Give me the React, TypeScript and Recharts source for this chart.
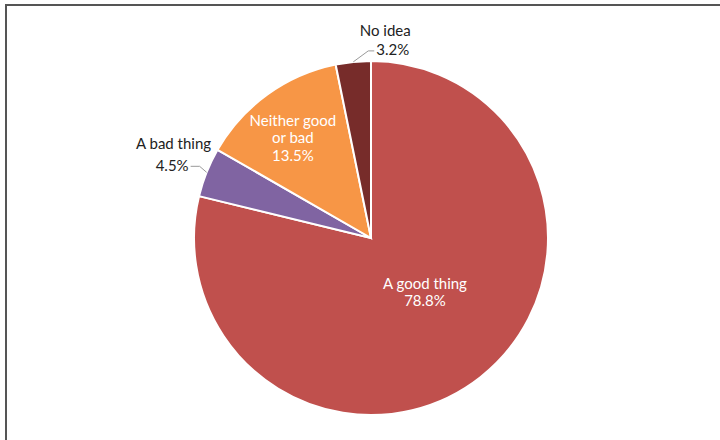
import { Cell, Pie, PieChart } from "recharts";

const categories = ["A good thing", "A bad thing", "Neither good or bad", "No idea"];
const shares = [78.8, 4.5, 13.5, 3.2];
const sliceColors = ["#c0504d", "#8064a2", "#f79646", "#772c2a"];
// how each label's text is broken into lines
const labelLines = [["A good thing"], ["A bad thing"], ["Neither good", "or bad"], ["No idea"]];

const data = categories.map((name, i) => ({ name, value: shares[i], lines: labelLines[i] }));

const RAD = Math.PI / 180;
const FONT = "Lato, 'Open Sans', sans-serif";
const FS = 15;

// inside labels sit on a polar spot; outside ones hang off a leader line
const insideLayout: Record<string, { rf: number; shift: number }> = {
  "A good thing": { rf: 0.43, shift: 7 },
  "Neither good or bad": { rf: 0.72, shift: 2 },
};

function SliceLabel(props: any) {
  const { cx, cy, midAngle, outerRadius, name, value, payload } = props;
  const lines: string[] = [...(payload?.lines ?? [name]), `${value.toFixed(1)}%`];
  const inside = insideLayout[name];

  if (inside) {
    const a = (midAngle + inside.shift) * RAD;
    const r = outerRadius * inside.rf;
    const x = cx + r * Math.cos(a);
    const y = cy - r * Math.sin(a);
    const top = y - ((lines.length - 1) * 17.5) / 2;
    return (
      <text x={x} y={top} fill="#fff" fontSize={FS} fontFamily={FONT} textAnchor="middle" dominantBaseline="central">
        {lines.map((t, i) => (
          <tspan key={i} x={x} y={top + i * 17.5}>
            {t}
          </tspan>
        ))}
      </text>
    );
  }

  const ex = cx + outerRadius * Math.cos(midAngle * RAD);
  const ey = cy - outerRadius * Math.sin(midAngle * RAD);
  const leftSide = Math.cos(midAngle * RAD) < -0.5;

  if (leftSide) {
    const elbow = [ex - 7, ey - 6];
    const end = [elbow[0] - 9, elbow[1]];
    return (
      <g>
        <polyline points={`${ex},${ey} ${elbow[0]},${elbow[1]} ${end[0]},${end[1]}`} fill="none" stroke="#9a9a9a" strokeWidth={1} />
        <text x={ex + 4.5} y={ey - 29.5} fill="#222" fontSize={FS} fontFamily={FONT} textAnchor="end" dominantBaseline="central">
          {lines[0]}
        </text>
        <text x={end[0] - 2} y={end[1] - 1} fill="#222" fontSize={FS} fontFamily={FONT} textAnchor="end" dominantBaseline="central">
          {lines[1]}
        </text>
      </g>
    );
  }

  const elbow = [ex + 15, ey - 11];
  const end = [elbow[0] + 6, elbow[1]];
  return (
    <g>
      <polyline points={`${ex},${ey} ${elbow[0]},${elbow[1]} ${end[0]},${end[1]}`} fill="none" stroke="#9a9a9a" strokeWidth={1} />
      <text x={ex + 32} y={ey - 32} fill="#222" fontSize={FS} fontFamily={FONT} textAnchor="middle" dominantBaseline="central">
        {lines[0]}
      </text>
      <text x={end[0] + 2} y={end[1] - 2} fill="#222" fontSize={FS} fontFamily={FONT} textAnchor="start" dominantBaseline="central">
        {lines[1]}
      </text>
    </g>
  );
}

export default function App() {
  return (
    <div style={{ position: "absolute", left: 0, top: 0, width: 720, height: 440, background: "#fff", overflow: "hidden" }}>
      <div
        style={{
          position: "absolute",
          left: 5,
          top: 4,
          right: -10,
          bottom: -10,
          borderTop: "2px solid #555",
          borderLeft: "2px solid #555",
        }}
      />
      <PieChart
        width={720}
        height={440}
        margin={{ top: 0, right: 0, bottom: 0, left: 0 }}
        style={{ position: "absolute", left: 0, top: 0 }}
      >
        <Pie
          data={data}
          dataKey="value"
          nameKey="name"
          cx={371}
          cy={238}
          outerRadius={177}
          startAngle={90}
          endAngle={-270}
          stroke="#fff"
          strokeWidth={2}
          label={SliceLabel}
          labelLine={false}
          isAnimationActive={false}
        >
          {data.map((d, i) => (
            <Cell key={d.name} fill={sliceColors[i]} />
          ))}
        </Pie>
      </PieChart>
    </div>
  );
}
